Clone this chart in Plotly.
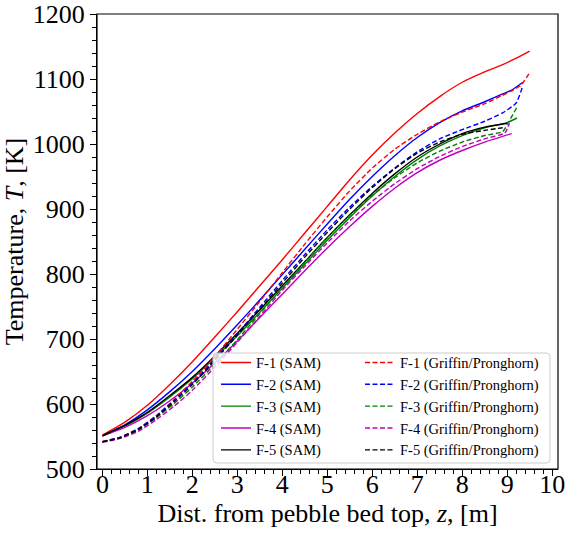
import plotly.graph_objects as go

# ---- data ----
z_f1_sam = [0, 0.5, 1, 1.5, 2, 2.5, 3, 3.5, 4, 4.5, 5, 5.5, 6, 6.5, 7, 7.5, 8, 8.5, 8.9, 9.2, 9.5]
T_f1_sam = [552, 572, 598, 630, 665, 703, 742, 782, 822, 863, 904, 945, 983, 1017, 1047, 1073, 1095, 1111, 1122, 1132, 1143]

z_f2_sam = [0, 0.5, 1, 1.5, 2, 2.5, 3, 3.5, 4, 4.5, 5, 5.5, 6, 6.5, 7, 7.5, 8, 8.5, 8.9, 9.1, 9.35]
T_f2_sam = [551, 568, 591, 619, 650, 685, 722, 760, 799, 838, 877, 915, 950, 982, 1010, 1033, 1051, 1065, 1077, 1083, 1095]

z_f3_sam = [0, 0.5, 1, 1.5, 2, 2.5, 3, 3.5, 4, 4.5, 5, 5.5, 6, 6.5, 7, 7.5, 8, 8.5, 9.0, 9.22]
T_f3_sam = [551, 566, 586, 611, 639, 671, 705, 741, 778, 815, 852, 887, 920, 950, 976, 997, 1013, 1025, 1033, 1040]

z_f4_sam = [0, 0.5, 1, 1.5, 2, 2.5, 3, 3.5, 4, 4.5, 5, 5.5, 6, 6.5, 7, 7.5, 8, 8.5, 9.1]
T_f4_sam = [551, 564, 582, 605, 632, 663, 697, 733, 769, 805, 840, 873, 904, 932, 956, 975, 990, 1003, 1016]

z_f5_sam = [0, 0.5, 1, 1.5, 2, 2.5, 3, 3.5, 4, 4.5, 5, 5.5, 6, 6.5, 7, 7.5, 8, 8.5, 9.0]
T_f5_sam = [551, 567, 587, 613, 641, 674, 709, 745, 782, 819, 856, 891, 924, 954, 980, 1000, 1016, 1026, 1032]

z_f1_gp = [0, 0.4, 0.8, 1.2, 1.6, 2, 2.5, 3, 3.5, 4, 4.5, 5, 5.5, 6, 6.5, 7, 7.5, 8, 8.5, 8.9, 9.3, 9.5]
T_f1_gp = [542, 549, 562, 582, 607, 635, 673, 715, 758, 802, 846, 888, 928, 963, 992, 1015, 1034, 1049, 1062, 1075, 1090, 1110]

z_f2_gp = [0, 0.4, 0.8, 1.2, 1.6, 2, 2.5, 3, 3.5, 4, 4.5, 5, 5.5, 6, 6.5, 7, 7.5, 8, 8.5, 8.9, 9.2, 9.35]
T_f2_gp = [542, 549, 562, 582, 606, 632, 669, 708, 749, 790, 830, 868, 903, 935, 963, 988, 1008, 1022, 1035, 1048, 1063, 1090]

z_f3_gp = [0, 0.4, 0.8, 1.2, 1.6, 2, 2.5, 3, 3.5, 4, 4.5, 5, 5.5, 6, 6.5, 7, 7.5, 8, 8.5, 8.9, 9.0, 9.22]
T_f3_gp = [542, 548, 560, 579, 601, 626, 661, 699, 739, 779, 818, 856, 890, 921, 948, 971, 989, 1003, 1013, 1019, 1030, 1057]

z_f4_gp = [0, 0.4, 0.8, 1.2, 1.6, 2, 2.5, 3, 3.5, 4, 4.5, 5, 5.5, 6, 6.5, 7, 7.5, 8, 8.5, 8.95, 9.05]
T_f4_gp = [541, 547, 558, 576, 597, 621, 657, 695, 735, 775, 812, 848, 882, 912, 939, 962, 981, 996, 1008, 1017, 1032]

z_f5_gp = [0, 0.4, 0.8, 1.2, 1.6, 2, 2.5, 3, 3.5, 4, 4.5, 5, 5.5, 6, 6.5, 7, 7.5, 8, 8.5, 8.9]
T_f5_gp = [542, 548, 561, 580, 604, 630, 667, 706, 746, 786, 826, 864, 900, 933, 962, 986, 1003, 1015, 1021, 1025]

names = ["F-1", "F-2", "F-3", "F-4", "F-5"]
colors = ["#ff0000", "#0000ff", "#008000", "#bf00bf", "#000000"]
sam = [(z_f1_sam, T_f1_sam), (z_f2_sam, T_f2_sam), (z_f3_sam, T_f3_sam), (z_f4_sam, T_f4_sam), (z_f5_sam, T_f5_sam)]
gp = [(z_f1_gp, T_f1_gp), (z_f2_gp, T_f2_gp), (z_f3_gp, T_f3_gp), (z_f4_gp, T_f4_gp), (z_f5_gp, T_f5_gp)]

x_ticks = list(range(0, 11))
y_ticks = list(range(500, 1201, 100))

FONT = "Liberation Serif"
LW = 1.4

fig = go.Figure()
for i in range(5):
    fig.add_trace(go.Scatter(x=sam[i][0], y=sam[i][1], mode="lines",
                             name=f"{names[i]} (SAM)", legend="legend",
                             line=dict(color=colors[i], width=LW, shape="spline", smoothing=0.5)))
for i in range(5):
    fig.add_trace(go.Scatter(x=gp[i][0], y=gp[i][1], mode="lines",
                             name=f"{names[i]} (Griffin/Pronghorn)", legend="legend2",
                             line=dict(color=colors[i], width=LW, dash="5px,2.5px", shape="spline", smoothing=0.5)))

axis_common = dict(showgrid=False, zeroline=False, showline=True, linecolor="black", linewidth=1.2,
                   mirror=False, ticks="outside", ticklen=6, tickwidth=1.2, tickcolor="black",
                   automargin=False, ticklabeloverflow="allow",
                   tickfont=dict(family=FONT, size=26, color="black"))

fig.update_xaxes(range=[-0.12, 10.13], tickvals=x_ticks, ticklabelstandoff=-14,
                 minor=dict(ticks="outside", ticklen=3.5, dtick=0.2, tickcolor="black", tickwidth=1),
                 title=dict(text="Dist. from pebble bed top, <i>z</i>, [m]",
                            font=dict(family=FONT, size=26, color="black"), standoff=5),
                 **axis_common)
fig.update_yaxes(range=[500, 1200], tickvals=y_ticks,
                 minor=dict(ticks="outside", ticklen=3.5, dtick=20, tickcolor="black", tickwidth=1),
                 title=dict(text="Temperature, <i>T</i>, [K]",
                            font=dict(family=FONT, size=26, color="black"), standoff=6),
                 **axis_common)

# pixel -> paper helpers
L, R, B, T = 97, 558, 469, 14
W, H = R - L, B - T
def px(xp):
    return (xp - L) / W
def py(yp):
    return (B - yp) / H

# legend frame (matplotlib-style rounded box)
x0, x1, y0, y1 = px(213), px(550), py(463), py(353)
rx, ry = 4 / W, 4 / H
path = (f"M {x0+rx},{y0} L {x1-rx},{y0} Q {x1},{y0} {x1},{y0+ry} L {x1},{y1-ry} Q {x1},{y1} {x1-rx},{y1} "
        f"L {x0+rx},{y1} Q {x0},{y1} {x0},{y1-ry} L {x0},{y0+ry} Q {x0},{y0} {x0+rx},{y0} Z")
fig.add_shape(type="path", path=path, xref="paper", yref="paper", layer="above",
              fillcolor="rgba(255,255,255,0.8)", line=dict(color="#cccccc", width=1))
# axes frame
fig.add_shape(type="rect", x0=0, x1=1, y0=0, y1=1, xref="paper", yref="paper", layer="above",
              line=dict(color="black", width=1.2), fillcolor="rgba(0,0,0,0)")

leg_common = dict(orientation="v", xanchor="left", yanchor="top", traceorder="normal",
                  font=dict(family=FONT, size=14.5, color="black"),
                  bgcolor="rgba(0,0,0,0)", borderwidth=0, itemwidth=30, tracegroupgap=0)

fig.update_layout(
    width=567, height=534,
    margin=dict(l=L, r=567 - R, t=T, b=534 - B),
    plot_bgcolor="white", paper_bgcolor="white",
    legend=dict(x=px(216), y=py(346.5), **leg_common),
    legend2=dict(x=px(360), y=py(346.5), **leg_common),
)

fig.write_html("out.html")
